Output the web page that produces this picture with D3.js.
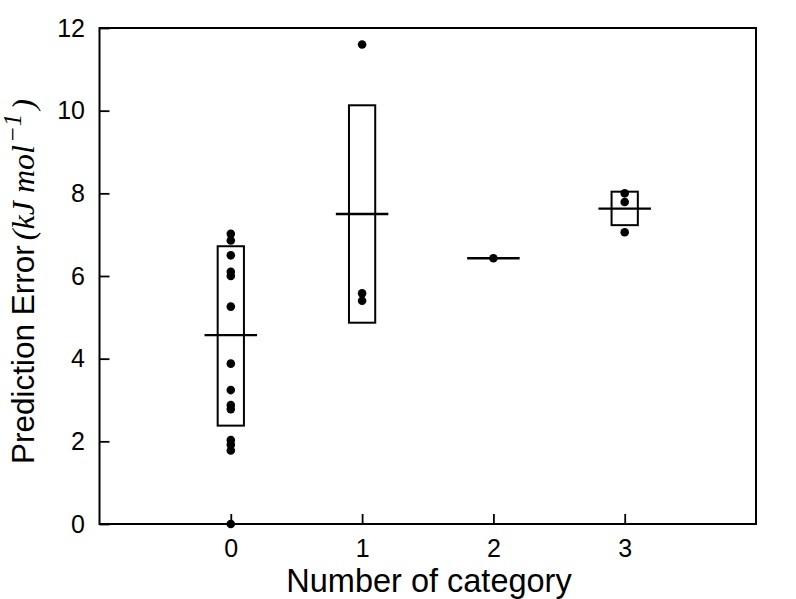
<!DOCTYPE html>
<html>
<head>
<meta charset="utf-8">
<script src="https://cdn.jsdelivr.net/npm/d3@7"></script>
<style>
  body { margin: 0; background: #fff; }
  text { font-family: "Liberation Sans", Arial, sans-serif; }
</style>
</head>
<body>
<script>
const w = 796;
const h = 599;
const margin = {top: 28, right: 40, bottom: 75, left: 99.5};

// data
const categories = [0, 1, 2, 3];
const pointsCat0 = [7.02, 6.86, 6.5, 6.1, 6.0, 5.26, 3.88, 3.24, 2.88, 2.78, 2.03, 1.92, 1.78, 0];
const pointsCat1 = [11.6, 5.58, 5.4];
const pointsCat2 = [6.43];
const pointsCat3 = [8.0, 7.79, 7.06];
const centers = [4.57, 7.5, 6.43, 7.63];
const lowers = [2.38, 4.87, null, 7.23];
const uppers = [6.72, 10.13, null, 8.04];
const yTicks = [0, 2, 4, 6, 8, 10, 12];

const points = [pointsCat0, pointsCat1, pointsCat2, pointsCat3];

const xScale = d3.scaleLinear()
	.domain([-1, 4])
	.range([margin.left, w - margin.right]);

const yScale = d3.scaleLinear()
	.domain([0, 12])
	.range([h - margin.bottom, margin.top]);

const svg = d3.select("body")
	.append("svg")
	.attr("width", w)
	.attr("height", h);

// boxes
svg.selectAll("rect.box")
	.data(categories.filter((c, i) => lowers[i] !== null))
	.enter()
	.append("rect")
	.attr("class", "box")
	.attr("x", (d) => xScale(d - 0.1))
	.attr("y", (d) => yScale(uppers[d]))
	.attr("width", (d) => xScale(d + 0.1) - xScale(d - 0.1))
	.attr("height", (d) => yScale(lowers[d]) - yScale(uppers[d]))
	.attr("fill", "none")
	.attr("stroke", "#000")
	.attr("stroke-width", 2);

// centre lines
svg.selectAll("line.mid")
	.data(categories)
	.enter()
	.append("line")
	.attr("class", "mid")
	.attr("x1", (d) => xScale(d - 0.2))
	.attr("x2", (d) => xScale(d + 0.2))
	.attr("y1", (d) => yScale(centers[d]))
	.attr("y2", (d) => yScale(centers[d]))
	.attr("stroke", "#000")
	.attr("stroke-width", 2.4);

// points
const flat = [];
points.forEach((arr, i) => arr.forEach((v) => flat.push({cat: categories[i], value: v})));

svg.selectAll("circle")
	.data(flat)
	.enter()
	.append("circle")
	.attr("cx", (d) => xScale(d.cat))
	.attr("cy", (d) => yScale(d.value))
	.attr("r", 4.3)
	.attr("fill", "#000");

// axes, ticks pointing inwards
const xAxis = d3.axisBottom(xScale).tickValues(categories).tickFormat(d3.format("d"))
	.tickSizeInner(-10).tickSizeOuter(0).tickPadding(15);
const yAxis = d3.axisLeft(yScale).tickValues(yTicks)
	.tickSizeInner(-10).tickSizeOuter(0).tickPadding(14.5);

const gx = svg.append("g")
	.attr("transform", "translate(0," + (h - margin.bottom) + ")")
	.call(xAxis);
const gy = svg.append("g")
	.attr("transform", "translate(" + margin.left + ",0)")
	.call(yAxis);

[gx, gy].forEach((g) => {
	g.select(".domain").remove();
	g.attr("font-size", 25).attr("font-family", "'Liberation Sans', Arial, sans-serif");
	g.selectAll("line").attr("stroke", "#000").attr("stroke-width", 1.8);
	g.selectAll("text").attr("fill", "#000");
});

// frame
svg.append("rect")
	.attr("x", margin.left)
	.attr("y", margin.top)
	.attr("width", w - margin.right - margin.left)
	.attr("height", h - margin.bottom - margin.top)
	.attr("fill", "none")
	.attr("stroke", "#000")
	.attr("stroke-width", 2);

// axis titles
svg.append("text")
	.attr("x", 429)
	.attr("y", 592)
	.attr("text-anchor", "middle")
	.attr("font-size", "32.5px")
	.text("Number of category");

const serif = "'Liberation Serif', 'Times New Roman', serif";
const yt = svg.append("text")
	.attr("transform", "translate(34,464) rotate(-90)")
	.attr("text-anchor", "start")
	.attr("font-size", "31.5px");
yt.append("tspan").text("Prediction Error");
yt.append("tspan")
	.attr("font-family", serif)
	.attr("font-style", "italic")
	.attr("font-size", "32px")
	.attr("dx", "5")
	.text("(kJ mol");
yt.append("tspan")
	.attr("font-family", serif)
	.attr("font-style", "italic")
	.attr("font-size", "25px")
	.attr("dx", "2")
	.attr("dy", "-13")
	.text("\u22121");
yt.append("tspan")
	.attr("font-family", serif)
	.attr("font-style", "italic")
	.attr("font-size", "32px")
	.attr("dx", "4")
	.attr("dy", "13")
	.text(")");
</script>
</body>
</html>
